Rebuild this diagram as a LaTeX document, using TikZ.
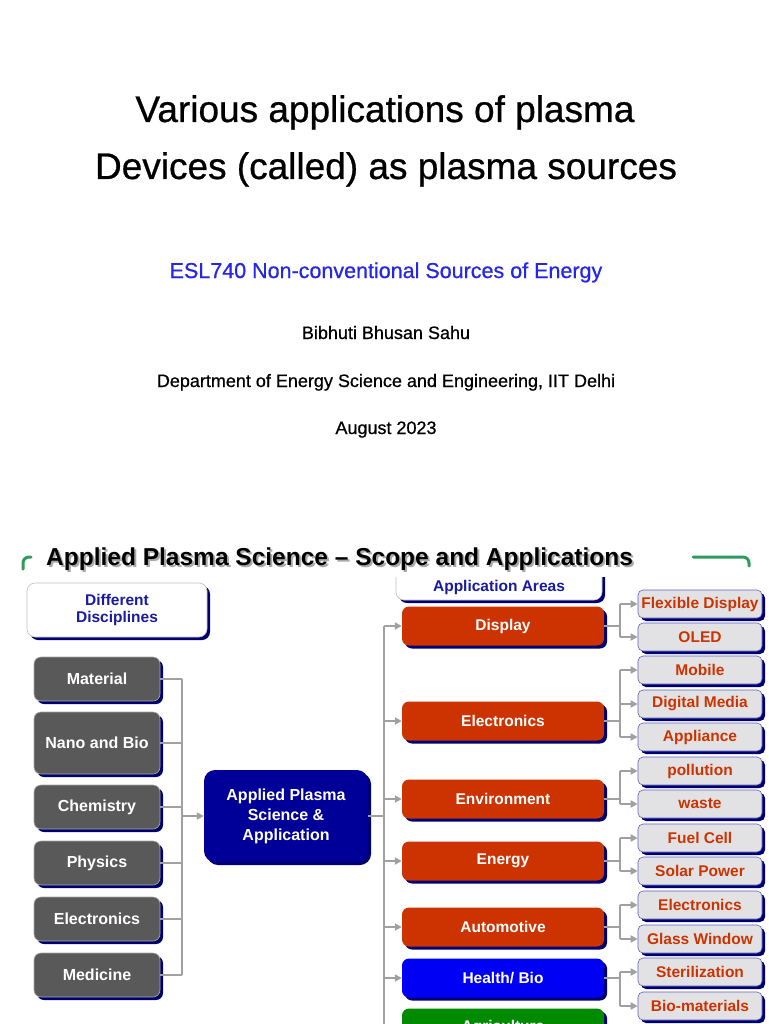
\documentclass[tikz,border=0pt]{standalone}
\usepackage{fontspec}
\setmainfont{Liberation Sans}
\newfontfamily\medfont[FakeBold=0.7]{Liberation Sans}
\usetikzlibrary{arrows.meta,shadows}
\definecolor{dgray}{HTML}{595959}
\definecolor{navyshadow}{HTML}{000070}
\definecolor{navytxt}{HTML}{1A1A9C}
\definecolor{navybox}{HTML}{000099}
\definecolor{redbox}{HTML}{CC3300}
\definecolor{bluebox}{HTML}{0000F5}
\definecolor{greenbox}{HTML}{008A00}
\definecolor{lgray}{HTML}{E2E2E4}
\definecolor{connc}{HTML}{A0A0A0}
\definecolor{gline}{HTML}{2E9A5C}
\definecolor{subblue}{HTML}{2626E6}
\definecolor{hshadow}{HTML}{AAAAAA}
\newcommand{\myfs}[1]{\fontsize{#1}{#1}\selectfont}
\begin{document}
\begin{tikzpicture}[x=1pt,y=-1pt,
  nshadow/.style={drop shadow={shadow xshift=3pt,shadow yshift=-3pt,fill=navyshadow,opacity=1}},
  discbox/.style={nshadow,rounded corners=7pt,fill=dgray,draw=gray!70,line width=0.6pt,text=white,
    font=\bfseries\myfs{16},minimum width=126pt,minimum height=44pt,inner sep=1pt},
  areabox/.style={nshadow,rounded corners=7pt,fill=redbox,text=white,
    font=\bfseries\myfs{15.5},minimum width=202pt,minimum height=39pt,inner sep=1pt},
  subbox/.style={nshadow,rounded corners=5pt,fill=lgray,draw=navytxt!70,line width=0.6pt,text=redbox,
    font=\bfseries\myfs{15.5},minimum width=124pt,minimum height=28pt,inner sep=1pt},
  hdrbox/.style={nshadow,rounded corners=8pt,fill=white,draw=gray!50,line width=0.6pt,text=navytxt,
    font=\bfseries\myfs{15.5},align=center},
  toptext/.style={anchor=base,font=\medfont\myfs{#1}},
  conn/.style={draw=connc,line width=1.8pt},
  arr/.style={conn,-{Triangle[length=7pt,width=7pt]}},
  gcorner/.style={draw=gline,line width=3pt,line cap=round,rounded corners=6pt}
]
\useasboundingbox (0,0) rectangle (768,1024);
\clip (0,0) rectangle (768,1024);
\fill[white] (0,0) rectangle (768,1024);

% ---- title slide ----
\node[toptext=37] (t1) at (385,122) {Various applications of plasma};
\node[toptext=37] (t2) at (386,179) {Devices (called) as plasma sources};
\node[toptext=21.5,text=subblue] (sub) at (386,278) {ESL740 Non-conventional Sources of Energy};
\node[toptext=18] (auth) at (386,339) {Bibhuti Bhusan Sahu};
\node[toptext=18] (dept) at (386,387) {Department of Energy Science and Engineering, IIT Delhi};
\node[toptext=18] (date) at (386,434) {August 2023};

% ---- lower slide heading ----
\draw[gcorner] (23,569) |- (31,557);
\draw[gcorner] (693,557) -| (749,566);
\node[anchor=base west,font=\bfseries\myfs{24.5},text=hshadow,inner sep=0pt] (hds) at (48,567) {Applied Plasma Science – Scope and Applications};
\node[anchor=base west,font=\bfseries\myfs{24.5},inner sep=0pt] (hd) at (46,565) {Applied Plasma Science – Scope and Applications};

% header boxes
\node[hdrbox,minimum width=180pt,minimum height=54pt] (dd) at (117,610) {Different\\[2pt]Disciplines};
\begin{scope}
  \clip (380,577) rectangle (620,640);
  \node[hdrbox,minimum width=206pt,minimum height=50pt] (aabox) at (499,575) {};
\end{scope}
\node[font=\bfseries\myfs{15.5},text=navytxt] (aa) at (499,587) {Application Areas};

% disciplines
\node[discbox] (mat) at (97,679) {Material};
\node[discbox,minimum height=62pt] (nano) at (97,743) {Nano and Bio};
\node[discbox] (chem) at (97,807) {Chemistry};
\node[discbox] (phys) at (97,863) {Physics};
\node[discbox] (elec) at (97,919) {Electronics};
\node[discbox] (med) at (97,975) {Medicine};

% center
\node[nshadow,rounded corners=11pt,fill=navybox,text=white,font=\bfseries\myfs{16},align=center,
  minimum width=164pt,minimum height=92pt,inner sep=1pt] (aps) at (286,816)
  {Applied Plasma\\[4pt]Science \&\\[4pt]Application};

% application areas
\node[areabox] (disp) at (503,626) {Display};
\node[areabox] (aelec) at (503,721) {Electronics};
\node[areabox] (env) at (503,799) {Environment};
\node[areabox] (ener) at (503,861) {Energy};
\node[areabox] (auto) at (503,927) {Automotive};
\node[areabox,fill=bluebox] (health) at (503,978) {Health/ Bio};
\node[areabox,fill=greenbox] (agri) at (503,1028) {Agriculture};

% sub boxes
\node[subbox] (flex) at (700,604) {Flexible Display};
\node[subbox] (oled) at (700,637) {OLED};
\node[subbox] (mob) at (700,670) {Mobile};
\node[subbox] (dig) at (700,704) {Digital Media};
\node[subbox] (appl) at (700,737) {Appliance};
\node[subbox] (poll) at (700,771) {pollution};
\node[subbox] (waste) at (700,804) {waste};
\node[subbox] (fuel) at (700,838) {Fuel Cell};
\node[subbox] (solar) at (700,871) {Solar Power};
\node[subbox] (selec) at (700,905) {Electronics};
\node[subbox] (glass) at (700,939) {Glass Window};
\node[subbox] (ster) at (700,972) {Sterilization};
\node[subbox] (biom) at (700,1006) {Bio-materials};

% bus coordinates
\coordinate (busL) at (182,0);
\coordinate (busM) at (384,0);
\coordinate (busR) at (620,0);
\coordinate (mend) at (384,1040);

% left tree
\foreach \n in {mat,nano,chem,phys,elec,med}
  \draw[conn] (\n.east) -- (\n.east -| busL);
\draw[conn] (mat.east -| busL) -- (med.east -| busL);
\draw[arr] (aps.west -| busL) -- (aps.west);

% middle tree
\draw[conn] (aps.east) -- (aps.east -| busM);
\draw[conn] (disp.west -| busM) -- (mend);
\foreach \n in {disp,aelec,env,ener,auto,health,agri}
  \draw[arr] (\n.west -| busM) -- (\n.west);

% right trees
\foreach \p/\a/\b in {disp/flex/oled,aelec/mob/appl,env/poll/waste,ener/fuel/solar,auto/selec/glass,health/ster/biom}{
  \draw[conn] (\p.east) -- (\p.east -| busR);
  \draw[conn] (\a.west -| busR) -- (\b.west -| busR);
}
\foreach \n in {flex,oled,mob,dig,appl,poll,waste,fuel,solar,selec,glass,ster,biom}
  \draw[arr] (\n.west -| busR) -- (\n.west);
\end{tikzpicture}
\end{document}
